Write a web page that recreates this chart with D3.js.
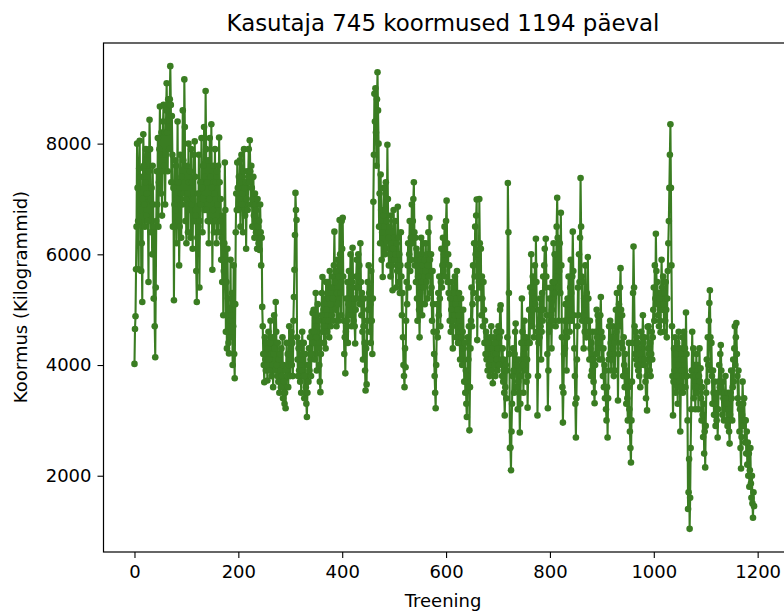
<!DOCTYPE html>
<html>
<head>
<meta charset="utf-8">
<script src="https://cdn.jsdelivr.net/npm/d3@7"></script>
<style>
  html, body { margin: 0; padding: 0; background: #fff; }
  svg { display: block; }
  text { font-family: "DejaVu Sans", sans-serif; fill: #000; }
</style>
</head>
<body>
<svg id="chart" width="784" height="612"></svg>
<script>
const chartTitle = "Kasutaja 745 koormused 1194 päeval";
const xLabel = "Treening";
const yLabel = "Koormus (Kilogrammid)";
const xTicks = [0, 200, 400, 600, 800, 1000, 1200];
const yTicks = [2000, 4000, 6000, 8000];

// Load per training session (kg)
const loads = [
  4020,4650,4880,5730,6500,8000,7200,6600,5730,7550,8050,6800,7400,5700,6200,5140,7000,8170,7600,6900,
  6500,7300,7900,6700,7100,7800,6600,5500,7500,8430,7900,7000,6400,7200,6000,7600,6900,5200,6500,4700,
  4140,5400,6600,7500,6900,8100,6500,7300,7900,8670,7800,7100,8200,6700,7500,8400,8700,7600,8200,6900,
  7800,8600,9090,8200,7500,8800,8300,7900,8800,9400,8700,7300,8500,7800,6500,7200,5170,6900,7700,6800,
  7600,6200,7000,8400,6600,7300,5800,6500,7800,7100,6300,7400,6900,8600,7700,7100,9160,8300,6600,7000,
  6200,7600,7100,6400,8000,7300,6800,7500,6300,7900,6900,7300,6100,7000,7800,6600,8040,7400,6700,5700,
  5140,6300,7100,6500,7800,5400,6600,7300,6900,8100,7200,6400,7600,7000,8300,6800,7400,8950,7900,6800,
  7300,6600,7700,6200,7000,8100,7400,6600,8350,7200,5720,6800,7600,6400,7100,7900,6600,7300,6200,7500,
  6900,7600,6400,8110,7300,6600,7000,5900,6300,5500,6700,4900,5700,6200,7660,6800,4600,5500,4300,6100,
  5200,4400,4210,5000,4800,5900,4500,4900,5300,4000,4700,5800,4200,3760,5100,6400,7100,6800,7660,7200,
  6800,7400,7000,7700,6500,7300,7800,6900,7100,6400,7500,7900,7200,6700,7300,6100,7000,7500,6800,7400,
  7900,7300,8060,7500,6900,7600,7200,6500,7000,7400,6700,6300,7100,6900,6400,6800,6100,7000,6500,6200,
  6600,6080,6900,6400,5800,6300,5050,4700,4200,4000,3690,4500,4100,3900,4400,4000,3720,4300,4600,4100,
  3900,4400,4800,4200,3800,4500,4000,3600,4200,4900,4300,3900,5140,4600,4000,3800,4400,3700,4100,3500,
  4200,3900,3600,4300,3800,4500,3400,4000,3700,3300,3500,3220,3900,4400,3800,4200,3600,4000,4700,4200,
  3800,4300,4600,4000,4400,3800,4800,5230,5720,6350,7110,6800,6620,4500,4100,3800,4300,3900,4400,3700,
  4100,3500,3900,4600,4200,3800,4400,3400,3800,4200,3600,3300,3060,3500,4000,3700,4300,3900,4500,4100,
  3800,4600,4200,4940,4400,5000,4600,4100,4800,5300,4500,3900,4700,5100,4300,4800,4000,3700,3510,4200,
  4900,5300,5590,4600,5000,4400,5200,4800,4300,5500,5000,4600,5500,4800,5200,4500,5700,5100,4700,5400,
  4900,5600,5200,4800,5800,6410,5500,5000,5700,4700,5300,5900,5100,4800,5600,6620,6000,5300,4900,6600,
  6100,6660,5600,4800,4200,4500,3850,4600,5200,4800,5500,4400,5100,5700,4900,5400,6000,5300,4700,5500,
  6120,5400,4800,5200,4700,4390,5000,5600,5900,5200,5600,6000,5400,5800,5100,6200,5500,4900,5300,4600,
  4100,4700,5200,4400,3900,3540,4300,3650,4800,5500,5000,5800,5300,4600,5100,4400,5700,4800,4200,5200,
  6950,7800,8900,8400,9000,8200,7600,8800,9290,8600,8000,6500,7100,6200,7440,6800,5900,6400,5590,6700,
  7200,6500,6000,6800,7300,6100,6600,7980,7000,6300,5800,6500,6000,5600,6700,6200,5800,5350,6100,6800,
  6300,5900,6600,6000,5400,6200,5700,6860,6300,5500,6000,5300,5800,6400,5600,4900,5300,4500,4000,3800,
  3600,4300,3960,4800,5500,5100,5800,6200,5400,6000,6600,5700,6300,5900,6900,6200,6600,7000,7300,6400,
  5800,6300,5500,6100,5200,4800,5600,6000,5000,4500,5300,5900,6300,5500,4900,5800,6200,5400,5900,5100,
  5700,6200,5500,6000,5200,5800,6400,5600,6660,5900,5300,6000,5400,4800,5700,5100,4600,4200,3800,3500,
  3220,4000,4600,5100,4500,5300,4900,5600,5200,4700,5500,6100,5400,5800,6300,5700,6000,6500,5600,6200,
  6600,6970,6200,5500,6000,5300,5800,4800,5200,4600,5000,5500,4700,4300,4800,5400,4900,5600,5100,4500,
  5200,5700,5000,4400,4900,5300,4600,4100,4700,5200,4500,4000,4600,5000,4300,3700,4400,3500,3900,3300,
  3060,3800,4500,4100,4700,2820,3600,4300,4800,5400,4700,5100,5800,5300,6200,5600,6500,6000,6700,6990,
  4450,5200,6000,5500,7000,6200,5400,6100,4900,5600,5200,4700,5500,5000,4400,4800,4200,4600,4100,4500,
  3900,4400,4000,4300,3800,4500,4100,4700,3900,4300,3670,4200,4500,4000,4400,3800,4200,4600,4100,3900,
  4300,4700,4000,4500,5000,5080,4600,4100,3800,4300,3700,4100,3500,3090,3600,4000,3400,3900,4500,7290,
  6400,5300,4200,2500,2510,2100,2800,3300,3800,4300,3900,3500,4200,4600,4750,4100,3600,4000,3200,3700,
  4100,3500,2780,3300,3800,4400,5200,4600,4000,3500,4200,4800,4300,3900,4500,3700,4100,3230,3800,4400,
  5000,4400,5400,4800,6000,5300,4700,5600,5000,4500,5200,5800,5100,6280,5500,4600,3090,3800,4400,5000,
  4500,5200,4700,4100,4600,5300,4800,5600,5000,5800,6100,5400,6280,5600,4900,4200,3220,3900,4600,5200,
  4700,5400,4900,4300,5000,5500,4800,6200,5500,6000,5300,4700,5600,6500,7020,6300,5400,4800,5700,6200,
  5300,6750,5800,4500,3600,2960,3500,4200,4800,4300,5100,4600,3900,4500,5200,4800,5600,5100,4600,5400,
  5900,5300,4800,5600,6410,5700,4900,4300,3800,3300,2690,3400,4100,4700,5400,4900,6000,5500,6300,7380,
  6500,5600,4800,5500,4900,4300,5200,4600,5800,5100,4500,5300,4800,5950,5200,4600,4100,4800,4300,3800,
  4400,3900,4600,4100,3700,3500,3310,4000,4600,4200,5000,4500,4900,4300,4800,4100,4600,4900,5230,4600,
  4100,4500,3800,4300,3600,4000,3400,3900,3200,3000,3600,2690,3400,4100,4700,4200,4800,4400,3900,4500,
  4100,4700,4300,3800,4400,3900,4500,5000,4600,5300,4700,3360,4200,5100,4700,5400,5750,5000,4400,4900,
  4300,3800,4500,4000,3600,4200,3800,3300,3900,3400,3000,3600,4400,3200,2800,2500,2240,3000,3700,4400,
  5300,6140,5400,4700,4200,4600,4100,4500,4000,4400,3900,4300,3800,4200,3600,4000,4600,4100,4500,4900,
  4400,4000,4500,4100,3700,3400,3800,3180,4690,4300,4700,4200,3900,4400,3800,4200,4600,4100,4500,5000,
  5400,4800,5800,5200,6370,5700,5100,5500,4900,5300,4700,5200,4800,4590,5300,5900,5400,5000,5600,5100,
  4600,5300,4800,5500,5000,4500,5200,5700,6200,6600,7200,7800,8350,7200,5800,4700,3800,3090,3700,4300,
  3900,4500,3500,4200,3800,4400,3300,4000,4600,3700,4300,2800,3600,4200,3900,4500,3500,4100,4600,3800,
  4300,3600,4950,4200,3800,3000,1400,1700,2300,1040,1600,2500,3200,3900,4600,3800,4300,3400,4000,3600,
  3200,3800,4200,3500,4000,3600,3200,3800,4300,3700,3940,3400,3000,3600,3100,2700,3300,2400,2800,2150,
  2900,3500,4100,3700,4500,4000,4800,5120,5350,4500,3900,4400,3800,3300,3900,3500,3100,3700,3300,2900,
  3400,3000,3500,2690,3200,3700,4000,3600,4200,4360,3900,3500,3100,3700,3400,3000,3500,3200,3800,3400,
  3000,3300,2900,3500,3200,2800,2580,3100,3500,3900,3400,3000,3600,4100,3700,4300,4700,4000,4500,4760,
  4200,3800,3400,3900,3300,2800,3200,2500,2130,2700,3100,3700,3300,2900,3400,3000,2600,3000,2400,2800,
  2200,2600,2000,2400,1800,2100,2500,1860,1600,2000,1500,1240,1700,1450
];

const svg = d3.select("#chart");
const plot = { left: 103.5, right: 785, top: 43, bottom: 552 };
const lineColor = "#3a7d22";

// matplotlib-like 5% margins
const n = loads.length;
const xPad = (n - 1) * 0.05;
const [yMin, yMax] = d3.extent(loads);
const yPad = (yMax - yMin) * 0.05;

const x = d3.scaleLinear().domain([-xPad, (n - 1) + xPad]).range([plot.left, plot.right]);
const y = d3.scaleLinear().domain([yMin - yPad, yMax + yPad]).range([plot.bottom, plot.top]);

svg.append("defs").append("clipPath").attr("id", "clip")
  .append("rect").attr("x", plot.left).attr("y", plot.top)
  .attr("width", plot.right - plot.left).attr("height", plot.bottom - plot.top);

const g = svg.append("g").attr("clip-path", "url(#clip)");

const line = d3.line().x((d, i) => x(i)).y(d => y(d));
g.append("path").datum(loads)
  .attr("d", line)
  .attr("fill", "none")
  .attr("stroke", lineColor)
  .attr("stroke-width", 2.1)
  .attr("stroke-linejoin", "round");

g.selectAll("circle").data(loads).join("circle")
  .attr("cx", (d, i) => x(i))
  .attr("cy", d => y(d))
  .attr("r", 3.3)
  .attr("fill", lineColor);

svg.append("rect")
  .attr("x", plot.left).attr("y", plot.top)
  .attr("width", plot.right - plot.left).attr("height", plot.bottom - plot.top)
  .attr("fill", "none").attr("stroke", "#000").attr("stroke-width", 1.2);

const xAxis = d3.axisBottom(x).tickValues(xTicks).tickSize(6).tickPadding(7).tickFormat(d3.format("d"));
const yAxis = d3.axisLeft(y).tickValues(yTicks).tickSize(6).tickPadding(6).tickFormat(d3.format("d"));

const gx = svg.append("g").attr("transform", `translate(0,${plot.bottom})`).call(xAxis);
const gy = svg.append("g").attr("transform", `translate(${plot.left},0)`).call(yAxis);
[gx, gy].forEach(a => {
  a.select(".domain").remove();
  a.selectAll(".tick line").attr("stroke", "#000").attr("stroke-width", 1.1);
  a.selectAll(".tick text").attr("font-size", "18px").attr("font-family", "DejaVu Sans").attr("fill", "#000");
});

svg.append("text").attr("x", 443).attr("y", 31).attr("text-anchor", "middle")
  .attr("font-size", "22.9px").text(chartTitle);
svg.append("text").attr("x", 443).attr("y", 607).attr("text-anchor", "middle")
  .attr("font-size", "18px").text(xLabel);
svg.append("text").attr("transform", `translate(27,297) rotate(-90)`).attr("text-anchor", "middle")
  .attr("font-size", "18px").text(yLabel);
</script>
</body>
</html>
